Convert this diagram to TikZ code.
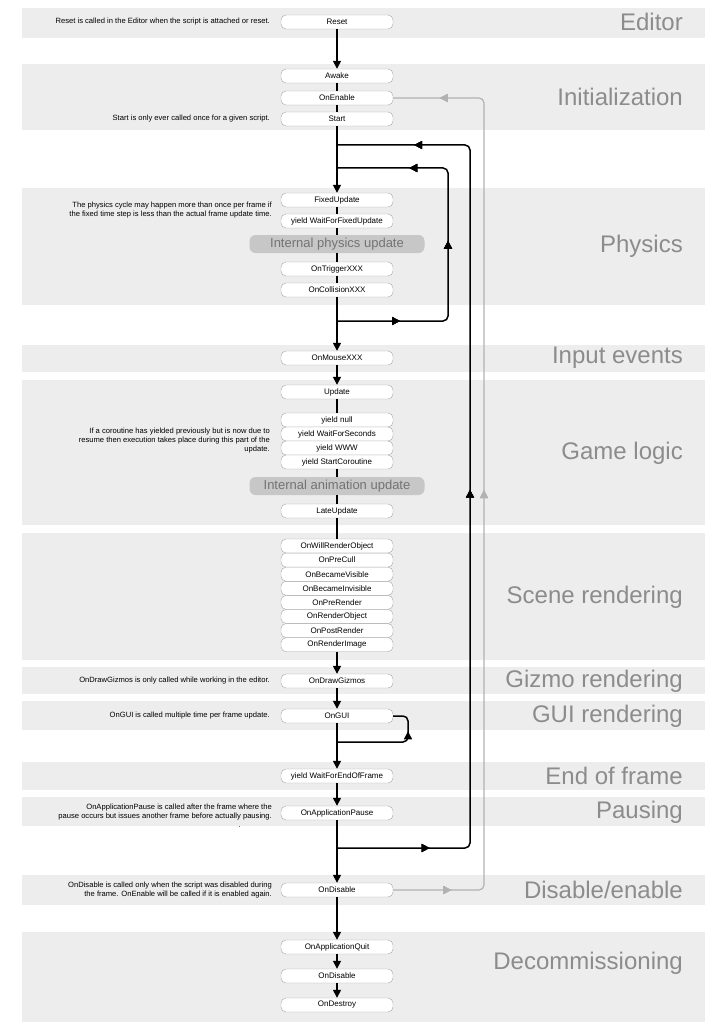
\documentclass[tikz,border=0pt]{standalone}
\usepackage{fontspec}
\setmainfont{Liberation Sans}
\usetikzlibrary{positioning,arrows.meta,decorations.markings}

\tikzset{
  band/.style={fill=black!7, draw=none},
  box/.style={draw=black!35, rounded corners=5pt, fill=white, minimum width=112pt, minimum height=14pt, inner sep=0pt, font=\fontsize{8}{9}\selectfont},
  pill/.style={fill=black!22, text=black!55, rounded corners=6pt, minimum width=175pt, minimum height=18pt, inner sep=0pt, font=\fontsize{13}{14}\selectfont},
  stage/.style={anchor=east, text=black!45, inner sep=0pt, font=\fontsize{24}{26}\selectfont},
  note/.style={anchor=east, align=right, inner sep=0pt, font=\fontsize{7.6}{9}\selectfont},
  link/.style={line width=1.5pt},
  flow/.style={line width=1.5pt, -{Triangle[length=8pt,width=8pt]}},
  back/.style={line width=1.2pt, black!30},
  tip/.style={postaction={decorate}, decoration={markings, mark=at position #1 with {\arrow{Triangle[length=8pt,width=8pt]}}}}
}

\begin{document}
\begin{tikzpicture}[x=1pt, y=-1pt]
\useasboundingbox (0,0) rectangle (721,1024);

% Bands
\foreach \top/\bot in {8/38, 64/130, 188/305, 345/372, 380/525, 533/660, 667/694, 701/730, 762/790, 797/826, 875/905, 932/1022}
  \fill[band] (22,\top) rectangle (705,\bot);

% Stage titles
\node[stage] (t-editor) at (683,22) {Editor};
\node[stage] (t-init) at (683,97) {Initialization};
\node[stage] (t-phys) at (683,246) {Physics};
\node[stage] (t-input) at (683,358) {Input events};
\node[stage] (t-logic) at (683,453) {Game logic};
\node[stage] (t-scene) at (683,597) {Scene rendering};
\node[stage] (t-gizmo) at (683,681) {Gizmo rendering};
\node[stage] (t-gui) at (683,716) {GUI rendering};
\node[stage] (t-end) at (683,776) {End of frame};
\node[stage] (t-pause) at (683,812) {Pausing};
\node[stage] (t-disable) at (683,890) {Disable/enable};
\node[stage] (t-decom) at (683,963) {Decommissioning};

% Notes
\node[note] (n-reset) at (270,22) {Reset is called in the Editor when the script is attached or reset.};
\node[note] (n-start) at (270,119) {Start is only ever called once for a given script.};
\node[note] (n-phys) at (272,210) {The physics cycle may happen more than once per frame if\\the fixed time step is less than the actual frame update time.};
\node[note] (n-logic) at (270,441) {If a coroutine has yielded previously but is now due to\\resume then execution takes place during this part of the\\update.};
\node[note] (n-gizmo) at (270,681) {OnDrawGizmos is only called while working in the editor.};
\node[note] (n-gui) at (270,716) {OnGUI is called multiple time per frame update.};
\node[note] (n-pause) at (272,812) {OnApplicationPause is called after the frame where the\\pause occurs but issues another frame before actually pausing.};
\node[note] (n-dot) at (241,827) {.};
\node[note] (n-disable) at (272,890) {OnDisable is called only when the script was disabled during\\the frame. OnEnable will be called if it is enabled again.};

% Boxes
\node[box] (reset) at (337,22) {Reset};
\node[box] (awake) at (337,76) {Awake};
\node[box] (enable) at (337,98) {OnEnable};
\node[box] (start) at (337,119) {Start};
\node[box] (fixed) at (337,200) {FixedUpdate};
\node[box] (wffu) at (337,221) {yield WaitForFixedUpdate};
\node[pill] (physupd) at (337,244) {Internal physics update};
\node[box] (trigger) at (337,269) {OnTriggerXXX};
\node[box] (collision) at (337,290) {OnCollisionXXX};
\node[box] (mouse) at (337,358) {OnMouseXXX};
\node[box] (update) at (337,392) {Update};
\node[box] (ynull) at (337,420) {yield null};
\node[box] (ywfs) at (337,434) {yield WaitForSeconds};
\node[box] (ywww) at (337,448) {yield WWW};
\node[box] (ycor) at (337,462) {yield StartCoroutine};
\node[pill] (animupd) at (337,486) {Internal animation update};
\node[box] (late) at (337,511) {LateUpdate};
\foreach \name/\label [count=\i from 0] in {willrender/OnWillRenderObject, precull/OnPreCull, visible/OnBecameVisible, invisible/OnBecameInvisible, prerender/OnPreRender, renderobj/OnRenderObject, postrender/OnPostRender, renderimg/OnRenderImage}
  \node[box] (\name) at (337,546+14.1*\i) {\label};
\node[box] (gizmos) at (337,681) {OnDrawGizmos};
\node[box] (gui) at (337,716) {OnGUI};
\node[box] (wfeof) at (337,776) {yield WaitForEndOfFrame};
\node[box] (pause) at (337,813) {OnApplicationPause};
\node[box] (disable) at (337,890) {OnDisable};
\node[box] (quit) at (337,947) {OnApplicationQuit};
\node[box] (disable2) at (337,976) {OnDisable};
\node[box] (destroy) at (337,1005) {OnDestroy};

% Loop corners
\coordinate (o-top) at (337,145);
\coordinate (o-top-r) at (470,145);
\coordinate (o-bot-r) at (470,848);
\coordinate (o-bot) at (337,848);
\coordinate (i-top) at (337,168);
\coordinate (i-top-r) at (448,168);
\coordinate (i-bot-r) at (448,321);
\coordinate (i-bot) at (337,321);
\coordinate (g-bot) at (484,890);
\coordinate (g-top) at (484,98);
\coordinate (u-bot) at (337,742);
\coordinate (u-bot-r) at (408,742);
\coordinate (u-top-r) at (408,716);

% Main flow
\draw[flow] (reset) -- (awake);
\draw[link] (awake) -- (enable);
\draw[link] (enable) -- (start);
\draw[flow] (start) -- (fixed);
\draw[link] (fixed) -- (wffu);
\draw[link] (wffu) -- (physupd);
\draw[link] (physupd) -- (trigger);
\draw[link] (trigger) -- (collision);
\draw[flow] (collision) -- (mouse);
\draw[flow] (mouse) -- (update);
\draw[link] (update) -- (ynull);
\draw[link] (ycor) -- (animupd);
\draw[link] (animupd) -- (late);
\draw[link] (late) -- (willrender);
\draw[flow] (renderimg) -- (gizmos);
\draw[flow] (gizmos) -- (gui);
\draw[flow] (gui) -- (wfeof);
\draw[flow] (wfeof) -- (pause);
\draw[flow] (pause) -- (disable);
\draw[flow] (disable) -- (quit);
\draw[flow] (quit) -- (disable2);
\draw[flow] (disable2) -- (destroy);

% Loops
\draw[link, rounded corners=5pt, tip=0.096, tip=0.507, tip=0.92] (o-bot) -- (o-bot-r) -- (o-top-r) -- (o-top);
\draw[link, rounded corners=5pt, tip=0.17, tip=0.51, tip=0.805] (i-bot) -- (i-bot-r) -- (i-top-r) -- (i-top);
\draw[link, rounded corners=5pt, tip=0.74] (u-bot) -- (u-bot-r) -- (u-top-r) -- (gui.east);
\draw[back, rounded corners=5pt, tip=0.06, tip=0.504, tip=0.952] (disable.east) -- (g-bot) -- (g-top) -- (enable.east);

\end{tikzpicture}
\end{document}
